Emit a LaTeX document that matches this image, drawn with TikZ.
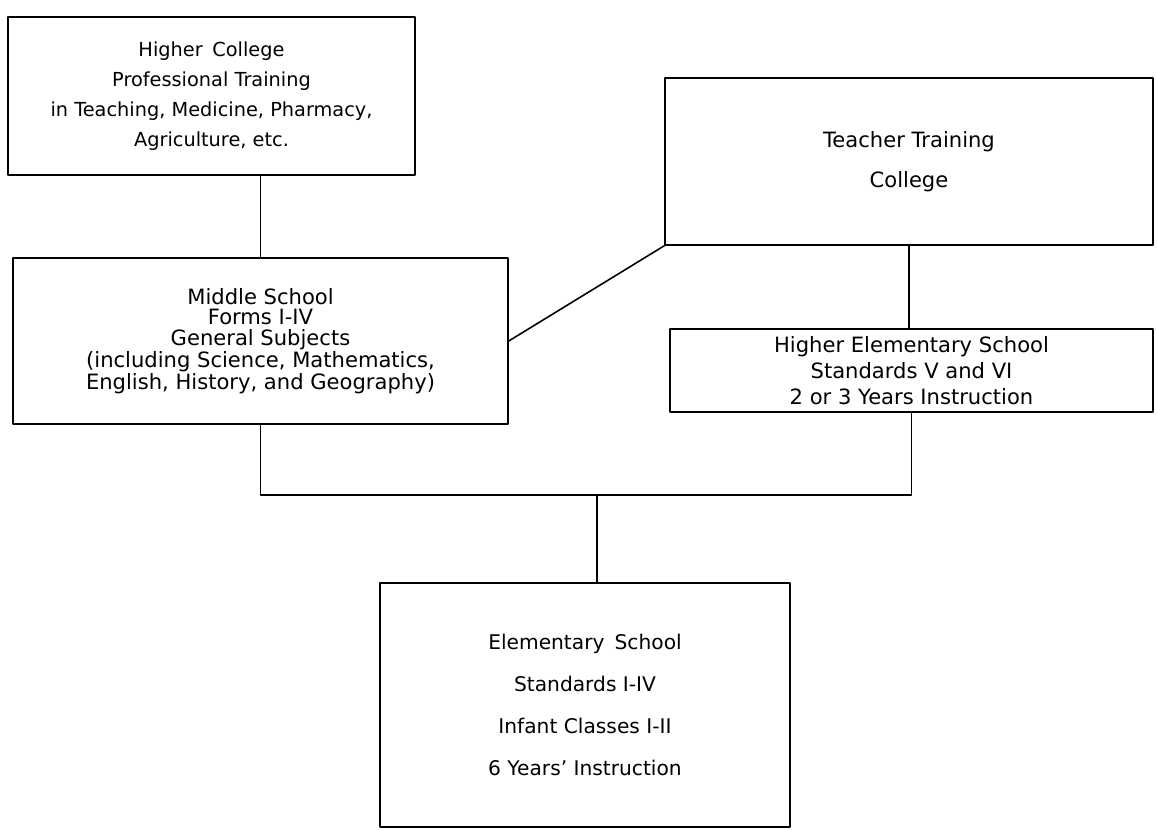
\documentclass[tikz,border=0pt]{standalone}
\usepackage{fontspec}
\setmainfont{DejaVu Sans}
\begin{document}
\begin{tikzpicture}[x=0.02cm,y=-0.02cm,line width=0.9pt,line join=round,line cap=round,
	school/.style={draw,rectangle,align=center,inner sep=0pt,font=\fontsize{12}{15}\selectfont}]
	\useasboundingbox (0,0) rectangle (1157,829);
	
	\node[school,minimum width=8.14cm,minimum height=3.16cm,font=\fontsize{11}{17}\selectfont] (hc) at (211.5,96)
		{Higher\enspace College\\Professional Training\\in Teaching, Medicine, Pharmacy,\\Agriculture, etc.};
	\node[school,minimum width=9.9cm,minimum height=3.32cm,font=\fontsize{12}{11.6}\selectfont] (ms) at (260.5,341)
		{Middle School\\Forms I-IV\\General Subjects\\(including Science, Mathematics,\\English, History, and Geography)};
	\node[school,minimum width=9.76cm,minimum height=3.34cm] (tt) at (909,161.5)
		{Teacher Training\\[8pt]College};
	\node[school,minimum width=9.66cm,minimum height=1.66cm] (he) at (911.5,370.5)
		{Higher Elementary School\\Standards V and VI\\2 or 3 Years Instruction};
	\node[school,minimum width=8.2cm,minimum height=4.88cm,font=\fontsize{11.5}{15}\selectfont] (es) at (585,705)
		{Elementary\enspace School\\[9pt]Standards I-IV\\[9pt]Infant Classes I-II\\[9pt]6 Years' Instruction};
	
	\coordinate (jn) at (597,495);
	\draw (hc.south -| ms.north) -- (ms.north);
	\draw (ms.east) -- (tt.south west);
	\draw (tt.south) -- (tt.south |- he.north);
	\draw (ms.south) |- (jn) -| (he.south);
	\draw (jn) -- (jn |- es.north);
\end{tikzpicture}
\end{document}
